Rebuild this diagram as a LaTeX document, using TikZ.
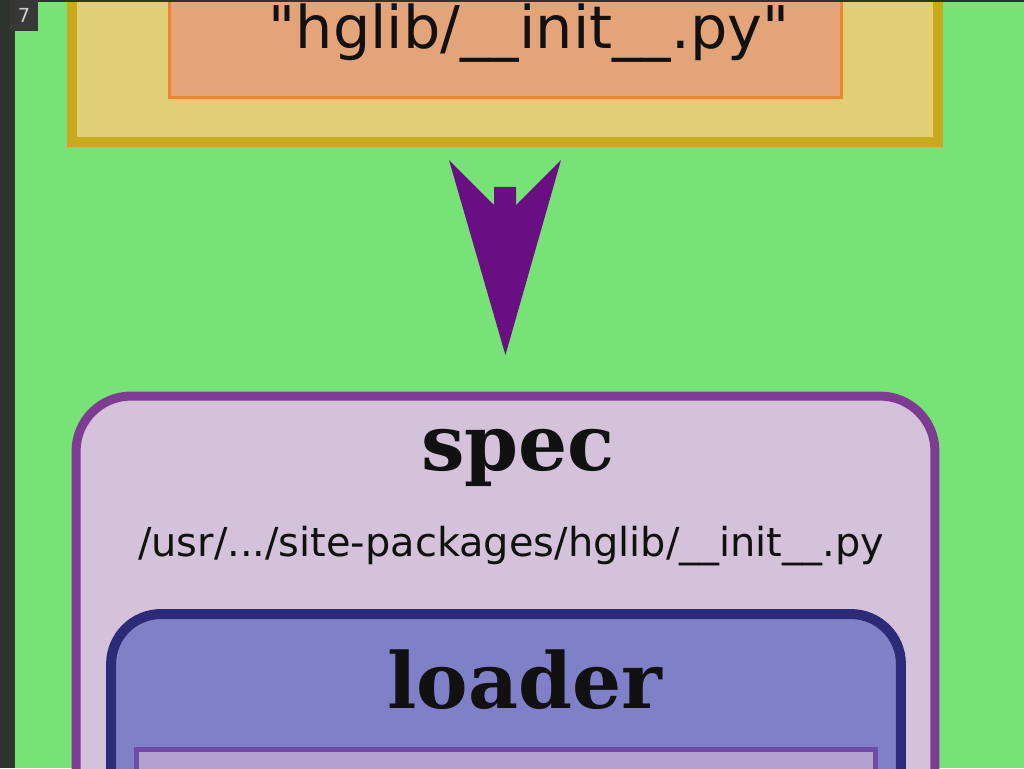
\documentclass[tikz,border=0pt]{standalone}
\usepackage{fontspec}
\setmainfont{DejaVu Sans}[Ligatures=TeXOff]
\newfontfamily\serifbold{DejaVu Serif}
\usetikzlibrary{arrows.meta}
\definecolor{bggreen}{HTML}{77E377}
\definecolor{pkgfill}{HTML}{E1CF76}
\definecolor{pkgedge}{HTML}{C8AA1E}
\definecolor{filefill}{HTML}{E3A47A}
\definecolor{fileedge}{HTML}{EE8530}
\definecolor{specfill}{HTML}{D4C2DA}
\definecolor{specedge}{HTML}{7D3C91}
\definecolor{loaderfill}{HTML}{8080C8}
\definecolor{loaderedge}{HTML}{2D2A78}
\definecolor{attrfill}{HTML}{B2A0D0}
\definecolor{attredge}{HTML}{704CA8}
\definecolor{arrowpurple}{HTML}{6A0F82}
\definecolor{stripdark}{HTML}{2E332F}
\definecolor{tabgray}{HTML}{383838}
\definecolor{inkdark}{HTML}{111111}

\begin{document}
\begin{tikzpicture}[x=0.02cm, y=-0.02cm,
        nametext/.style={font=\serifbold\bfseries\fontsize{44pt}{50pt}\selectfont, text=inkdark, anchor=base, inner sep=0pt},
        filetext/.style={text=inkdark, anchor=base, inner sep=0pt}]
        \useasboundingbox (0,0) rectangle (1024,768);
        \clip (0,0) rectangle (1024,768);
        \fill[bggreen] (0,0) rectangle (1024,768);
        \node[draw=pkgedge, line width=0.2cm, fill=pkgfill, minimum width=17.32cm, minimum height=4.84cm, inner sep=0pt]
            (pkg) at (505,21) {};
        \node[draw=fileedge, line width=0.06cm, fill=filefill, minimum width=13.46cm, minimum height=3.16cm, inner sep=0pt]
            (file) at (505.5,19) {};
        \node[filetext, font=\fontsize{33.5pt}{40pt}\selectfont]
            (filename) at (529,48) {"hglib/\_\_init\_\_.py"};
        \node[draw=specedge, line width=0.18cm, fill=specfill, rounded corners=1.1cm, minimum width=17.18cm, minimum height=10.08cm, inner sep=0pt]
            (spec) at (505.5,648) {};
        \node[nametext]
            (specname) at (518,470) {spec};
        \node[filetext, font=\fontsize{22.7pt}{27pt}\selectfont]
            (specpath) at (511,556) {/usr/.../site-packages/hglib/\_\_init\_\_.py};
        \node[draw=loaderedge, line width=0.2cm, fill=loaderfill, rounded corners=1cm, minimum width=15.8cm, minimum height=5.72cm, inner sep=0pt]
            (loader) at (506,757) {};
        \node[nametext]
            (loadername) at (525,708) {loader};
        \node[draw=attredge, line width=0.1cm, fill=attrfill, minimum width=14.8cm, minimum height=3.02cm, inner sep=0pt]
            (attr) at (506,824.5) {};
        \draw[arrowpurple, line width=0.44cm, shorten <=0.8cm, shorten >=0.73cm,
            -{Stealth[length=3.9cm, width=2.24cm, inset=1.12cm, line width=0pt]}] (pkg.south) -- (spec.north);
        \fill[stripdark] (0,0) rectangle (15,768);
        \fill[stripdark] (0,0) rectangle (1024,1.5);
        \node[fill=tabgray, text=black!20, minimum width=0.56cm, minimum height=0.62cm, inner sep=0pt, font=\fontsize{11pt}{12pt}\selectfont]
            (pagenum) at (24,15.5) {7};
    \end{tikzpicture}
\end{document}
